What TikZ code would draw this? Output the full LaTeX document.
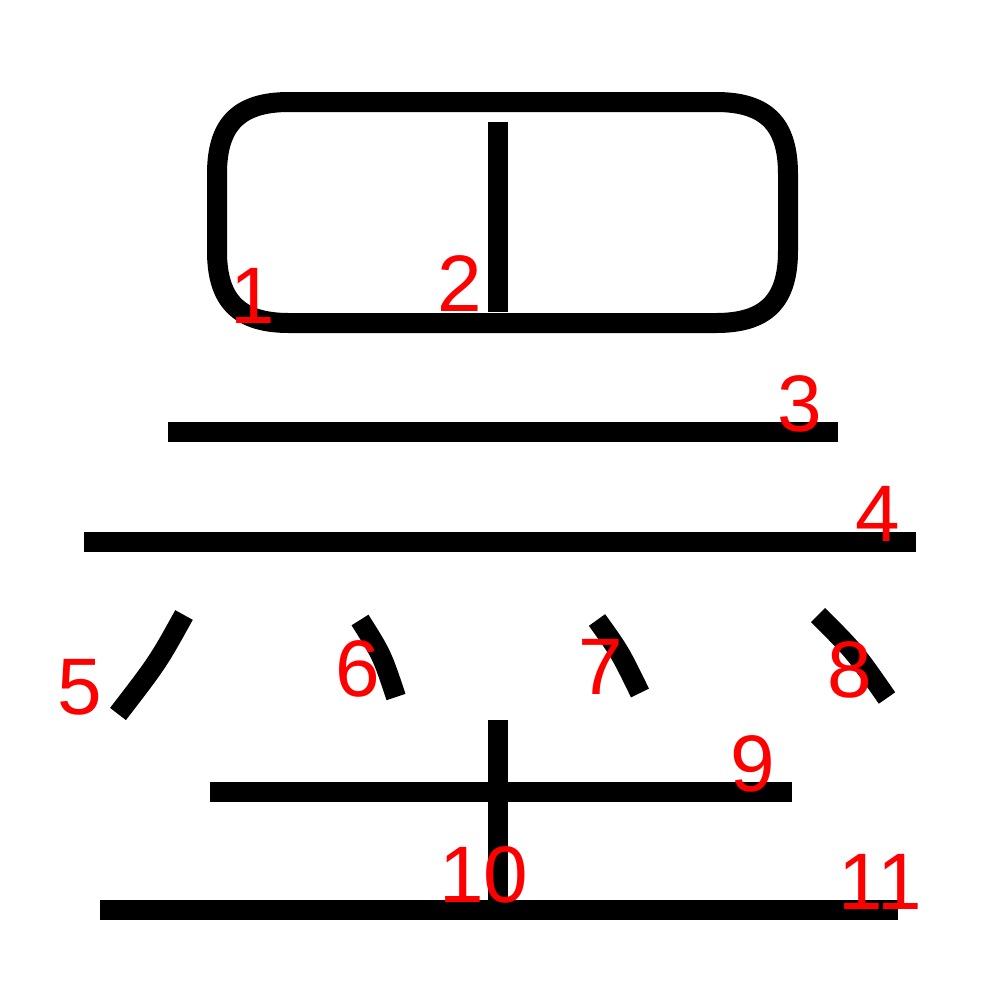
\documentclass[tikz,border=0pt]{standalone}
\usepackage{fontspec}
\setmainfont{Liberation Sans}
\tikzset{
    stroke/.style={
        line width=2mm,
        line cap=butt
    },
    num/.style={
        text=red,
        inner sep=0pt,
        font=\fontsize{22.8}{26}\selectfont
    },
}
\begin{document}
\begin{tikzpicture}[x=0.1mm, y=-0.1mm]
        \useasboundingbox (0,0) rectangle (1000,1000);
        \draw[stroke] (217,174) .. controls (217,124) and (239,102) .. (289,102)
                -- (716,102) .. controls (766,102) and (788,124) .. (788,174)
                -- (788,251) .. controls (788,301) and (766,323) .. (716,323)
                -- (289,323) .. controls (239,323) and (217,301) .. (217,251) -- cycle;
        \draw[stroke] (498,122) -- (498,312);
        \draw[stroke] (168,432) -- (838,432);
        \draw[stroke] (84,542) -- (916,542);
        \draw[stroke] (184,615) .. controls (158,662) .. (118,714);
        \draw[stroke] (360,620) .. controls (382,655) .. (396,697);
        \draw[stroke] (597,620) .. controls (620,652) .. (640,693);
        \draw[stroke] (818,615) .. controls (855,652) .. (887,698);
        \draw[stroke] (210,792) -- (792,792);
        \draw[stroke] (498,720) -- (498,900);
        \draw[stroke] (100,910) -- (898,910);

        \foreach \n/\x/\y in {1/253/296, 2/460/284, 3/800/404, 4/878/514,
                        5/80/687, 6/358/669, 7/601/667, 8/850/670,
                        9/753/764, 10/484/875, 11/880/882}
                            \node[num] (n\n) at (\x,\y) {\n};
\end{tikzpicture}
\end{document}
